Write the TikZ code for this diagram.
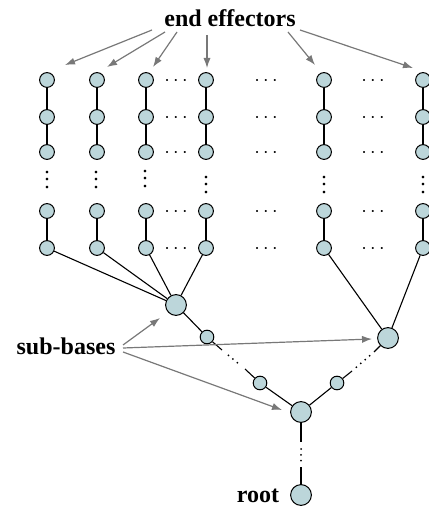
\documentclass[tikz,border=0pt]{standalone}
\usepackage{fontspec}
\setmainfont{Liberation Serif}
\usetikzlibrary{arrows.meta,calc}
\definecolor{nodefill}{RGB}{188,214,218}
\definecolor{arrgray}{RGB}{120,120,120}
\newcommand\myvdots{\vbox{\baselineskip3.8pt\lineskiplimit0pt\hbox{.}\hbox{.}\hbox{.}}}
\tikzset{
  leaf/.style={circle,draw=black,fill=nodefill,line width=0.5pt,inner sep=0pt,minimum size=7.4pt},
  mid/.style={circle,draw=black,fill=nodefill,line width=0.5pt,inner sep=0pt,minimum size=6.8pt},
  hub/.style={circle,draw=black,fill=nodefill,line width=0.5pt,inner sep=0pt,minimum size=10.4pt},
  edge/.style={draw=black,line width=0.55pt},
  dotedge/.style={draw=black,line width=1pt,line cap=round,dash pattern=on 0pt off 2.9pt},
  pointer/.style={draw=arrgray,line width=0.6pt,-{Latex[length=5pt,width=3.6pt]}},
  lbl/.style={font=\fontsize{12}{14}\selectfont\bfseries,inner sep=0pt},
  hdots/.style={inner sep=0pt},
  vd/.style={inner sep=0pt,anchor=south,font=\fontsize{11}{12}\selectfont}
}
\begin{document}
\begin{tikzpicture}[x=0.5pt,y=-0.5pt]
\useasboundingbox (0,0) rectangle (428,506);
% leaf columns
\foreach \x [count=\i] in {47,97,146,206,324,423} {
  \foreach \y [count=\j] in {80,117,152,211,248} {
    \node[leaf] (c\i-\j) at (\x,\y) {};
  }
  \draw[edge] (c\i-1) -- (c\i-2) -- (c\i-3);
  \draw[edge] (c\i-4) -- (c\i-5);
}
% vertical dots
\node[vd] (v1) at (47,189) {\myvdots};
\node[vd] (v2) at (96,189) {\myvdots};
\node[vd] (v3) at (145,188) {\myvdots};
\node[vd] (v4) at (206,194) {\myvdots};
\node[vd] (v5) at (324,194) {\myvdots};
\node[vd] (v6) at (423,194) {\myvdots};
% horizontal dots
\foreach \y [count=\j] in {81,118,153,212,249} {
  \node[hdots] (ha\j) at (176,\y) {$\cdots$};
  \node[hdots] (hb\j) at (266,\y) {$\cdots$};
  \node[hdots] (hc\j) at (373,\y) {$\cdots$};
}
% hubs
\node[hub] (hubL) at (176,305) {};
\node[hub] (hubR) at (388,338) {};
\node[hub] (hubM) at (301,412) {};
\node[hub] (root) at (301,495) {};
\node[mid] (mL1) at (207,337) {};
\node[mid] (mL2) at (260,383) {};
\node[mid] (mR1) at (337,383) {};
% hub connections
\foreach \i in {1,2,3,4} { \draw[edge] (c\i-5) -- (hubL); }
\draw[edge] (c5-5) -- (hubR);
\draw[edge] (c6-5) -- (hubR);
% chains with dots
\coordinate (dL1) at (222,350);
\coordinate (dL2) at (245,369);
\coordinate (dR1) at (352,371);
\coordinate (dR2) at (374,352);
\coordinate (dM1) at (301,442);
\coordinate (dM2) at (301,467);
\draw[edge] (hubL) -- (mL1) -- (dL1);
\draw[dotedge] ($(dL1)!0.28!(dL2)$) -- ($(dL1)!0.85!(dL2)$);
\draw[edge] (dL2) -- (mL2) -- (hubM);
\draw[edge] (hubM) -- (mR1) -- (dR1);
\draw[dotedge] ($(dR1)!0.2!(dR2)$) -- ($(dR1)!0.8!(dR2)$);
\draw[edge] (dR2) -- (hubR);
\draw[edge,line width=0.9pt] (hubM) -- (dM1);
\draw[dotedge] (301,449) -- (301,461);
\draw[edge,line width=0.9pt] (dM2) -- (root);
% labels
\node[lbl,anchor=base] (ee) at (230,27) {end effectors};
\node[lbl,anchor=base] (sb) at (66,354) {sub-bases};
\node[lbl,anchor=base] (rt) at (258,502) {root};
% pointers from end effectors
\coordinate (es1) at (152,30); \coordinate (et1) at (65,65);
\coordinate (es2) at (165,32); \coordinate (et2) at (107,67);
\coordinate (es3) at (177,32); \coordinate (et3) at (153,67);
\coordinate (es4) at (207,35); \coordinate (et4) at (207,68);
\coordinate (es5) at (288,32); \coordinate (et5) at (315,65);
\coordinate (es6) at (300,30); \coordinate (et6) at (413,68);
\foreach \k in {1,...,6} { \draw[pointer] (es\k) -- (et\k); }
% pointers from sub-bases
\coordinate (ss1) at (123,345); \coordinate (st1) at (160,318);
\coordinate (ss2) at (123,348); \coordinate (st2) at (372,339);
\coordinate (ss3) at (123,352); \coordinate (st3) at (282,410);
\foreach \k in {1,2,3} { \draw[pointer] (ss\k) -- (st\k); }
\end{tikzpicture}
\end{document}
